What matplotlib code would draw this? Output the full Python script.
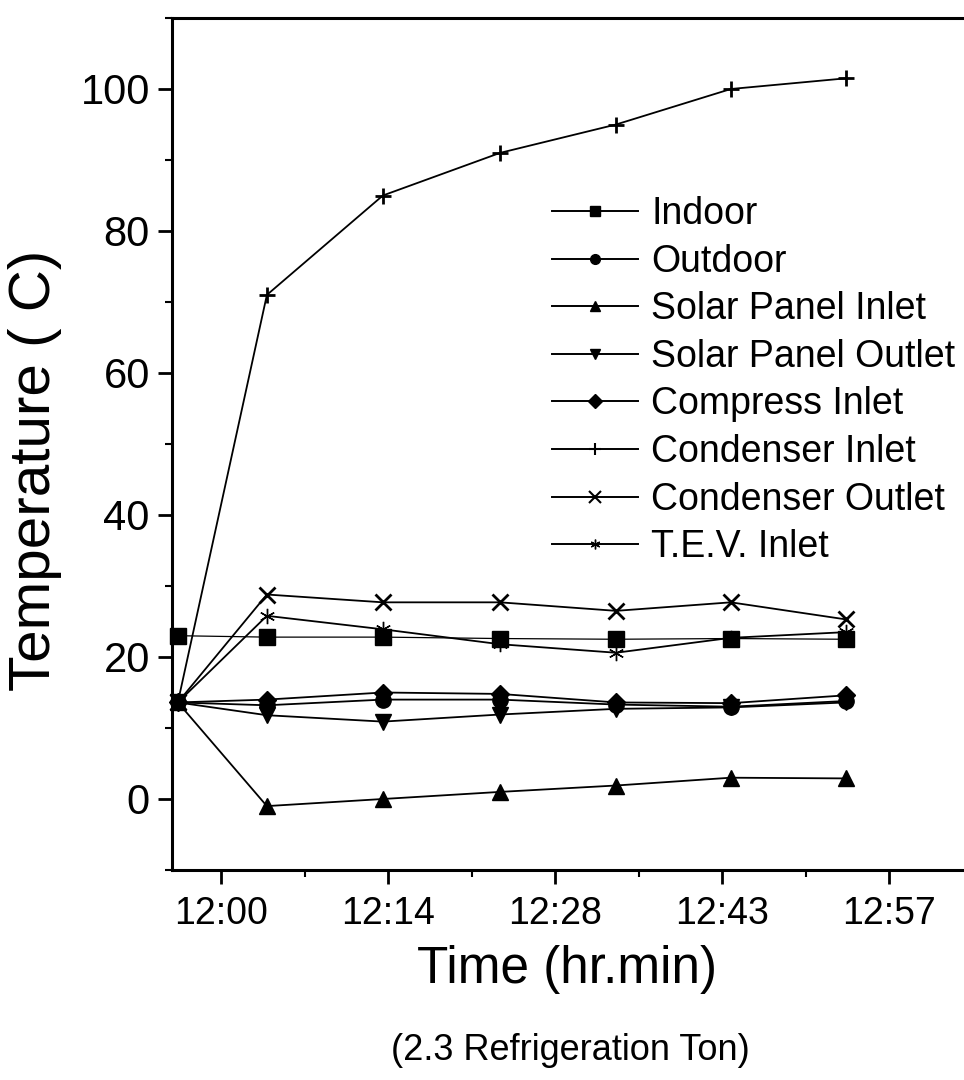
import matplotlib
matplotlib.use("Agg")
import matplotlib.pyplot as plt
from matplotlib.lines import Line2D

plt.rcParams['font.family'] = ['Liberation Sans', 'DejaVu Sans']

# time in minutes after 12:00
times = [-3.7, 3.9, 13.8, 23.8, 33.7, 43.5, 53.3]
tick_pos = [0, 14.25, 28.5, 42.75, 57]
tick_labels = ['12:00', '12:14', '12:28', '12:43', '12:57']

indoor = [23.0, 22.8, 22.8, 22.6, 22.5, 22.6, 22.5]
outdoor = [13.6, 13.2, 14.0, 14.0, 13.3, 13.0, 13.8]
solar_in = [13.6, -1.0, 0.0, 1.0, 1.9, 3.0, 2.9]
solar_out = [13.6, 11.8, 10.9, 11.9, 12.7, 12.9, 13.6]
compress_in = [13.6, 14.0, 15.0, 14.8, 13.6, 13.5, 14.6]
cond_in = [13.6, 71.0, 85.0, 91.0, 95.0, 100.0, 101.5]
cond_out = [13.6, 28.8, 27.7, 27.7, 26.5, 27.7, 25.3]
tev_in = [13.6, 25.8, 23.9, 21.8, 20.6, 22.7, 23.5]

series = [
    ("Indoor", indoor, 's', 0.9),
    ("Outdoor", outdoor, 'o', 1.3),
    ("Solar Panel Inlet", solar_in, '^', 1.3),
    ("Solar Panel Outlet", solar_out, 'v', 1.3),
    ("Compress Inlet", compress_in, 'D', 1.3),
    ("Condenser Inlet", cond_in, '+', 1.3),
    ("Condenser Outlet", cond_out, 'x', 1.3),
    ("T.E.V. Inlet", tev_in, (6, 2, 0), 1.3),
]

W, H = 964, 1080
fig = plt.figure(figsize=(W / 100, H / 100), dpi=100)
ax = fig.add_axes([172 / W, (H - 870) / H, 1 - 172 / W, (870 - 18) / H])

handles = []
for name, vals, mk, lw in series:
    filled = mk not in ('+', 'x')
    ms = 11 if filled else 12
    if mk == 'D':
        ms = 9
    ax.plot(times, vals, color='black', lw=lw, marker=mk, ms=ms,
            markerfacecolor='black', markeredgecolor='black',
            markeredgewidth=1.0 if filled else 2.0, clip_on=False, zorder=3)
    handles.append(Line2D([], [], color='black', lw=1.4, marker=mk,
                          ms=7 if filled else 8, markerfacecolor='black',
                          markeredgecolor='black',
                          markeredgewidth=1.0 if filled else 1.5))

ax.set_xticks(tick_pos)
ax.set_xticklabels(tick_labels)
ax.set_xticks([7.125, 21.375, 35.625, 49.875], minor=True)
ax.set_yticks([0, 20, 40, 60, 80, 100])
ax.set_yticks([-10, 10, 30, 50, 70, 90, 110], minor=True)
ax.set_xlim(-4.2, 63.4)
ax.set_ylim(-10, 110)

for s in ['left', 'bottom', 'top']:
    ax.spines[s].set_linewidth(2.2)
ax.spines['right'].set_visible(False)

ax.tick_params(axis='both', which='major', direction='out', length=10, width=2,
               labelsize=30, pad=6)
ax.tick_params(axis='both', which='minor', direction='out', length=5, width=1.5)
ax.tick_params(axis='x', labelsize=27, pad=9)

ax.set_ylabel("Temperature ( C)", fontsize=42)
ax.yaxis.set_label_coords(-(172 - 35) / 792, (870 - 470) / 852)
ax.yaxis.label.set_va('center')
ax.set_xlabel("Time (hr.min)", fontsize=37)
ax.xaxis.set_label_coords((567 - 172) / 792, -(970 - 870) / 852)
ax.xaxis.label.set_va('center')

fig.text(570 / W, 1 - 1050 / H, "(2.3 Refrigeration Ton)", fontsize=26,
         ha='center', va='center')

leg = ax.legend(handles, [s[0] for s in series], loc='upper left',
                bbox_to_anchor=(552 / W, 1 - 196 / H),
                bbox_transform=fig.transFigure, frameon=False, fontsize=27,
                handlelength=2.3, handletextpad=0.35, labelspacing=0.31,
                borderpad=0, borderaxespad=0, numpoints=1)

fig.savefig("out.png", dpi=100)
